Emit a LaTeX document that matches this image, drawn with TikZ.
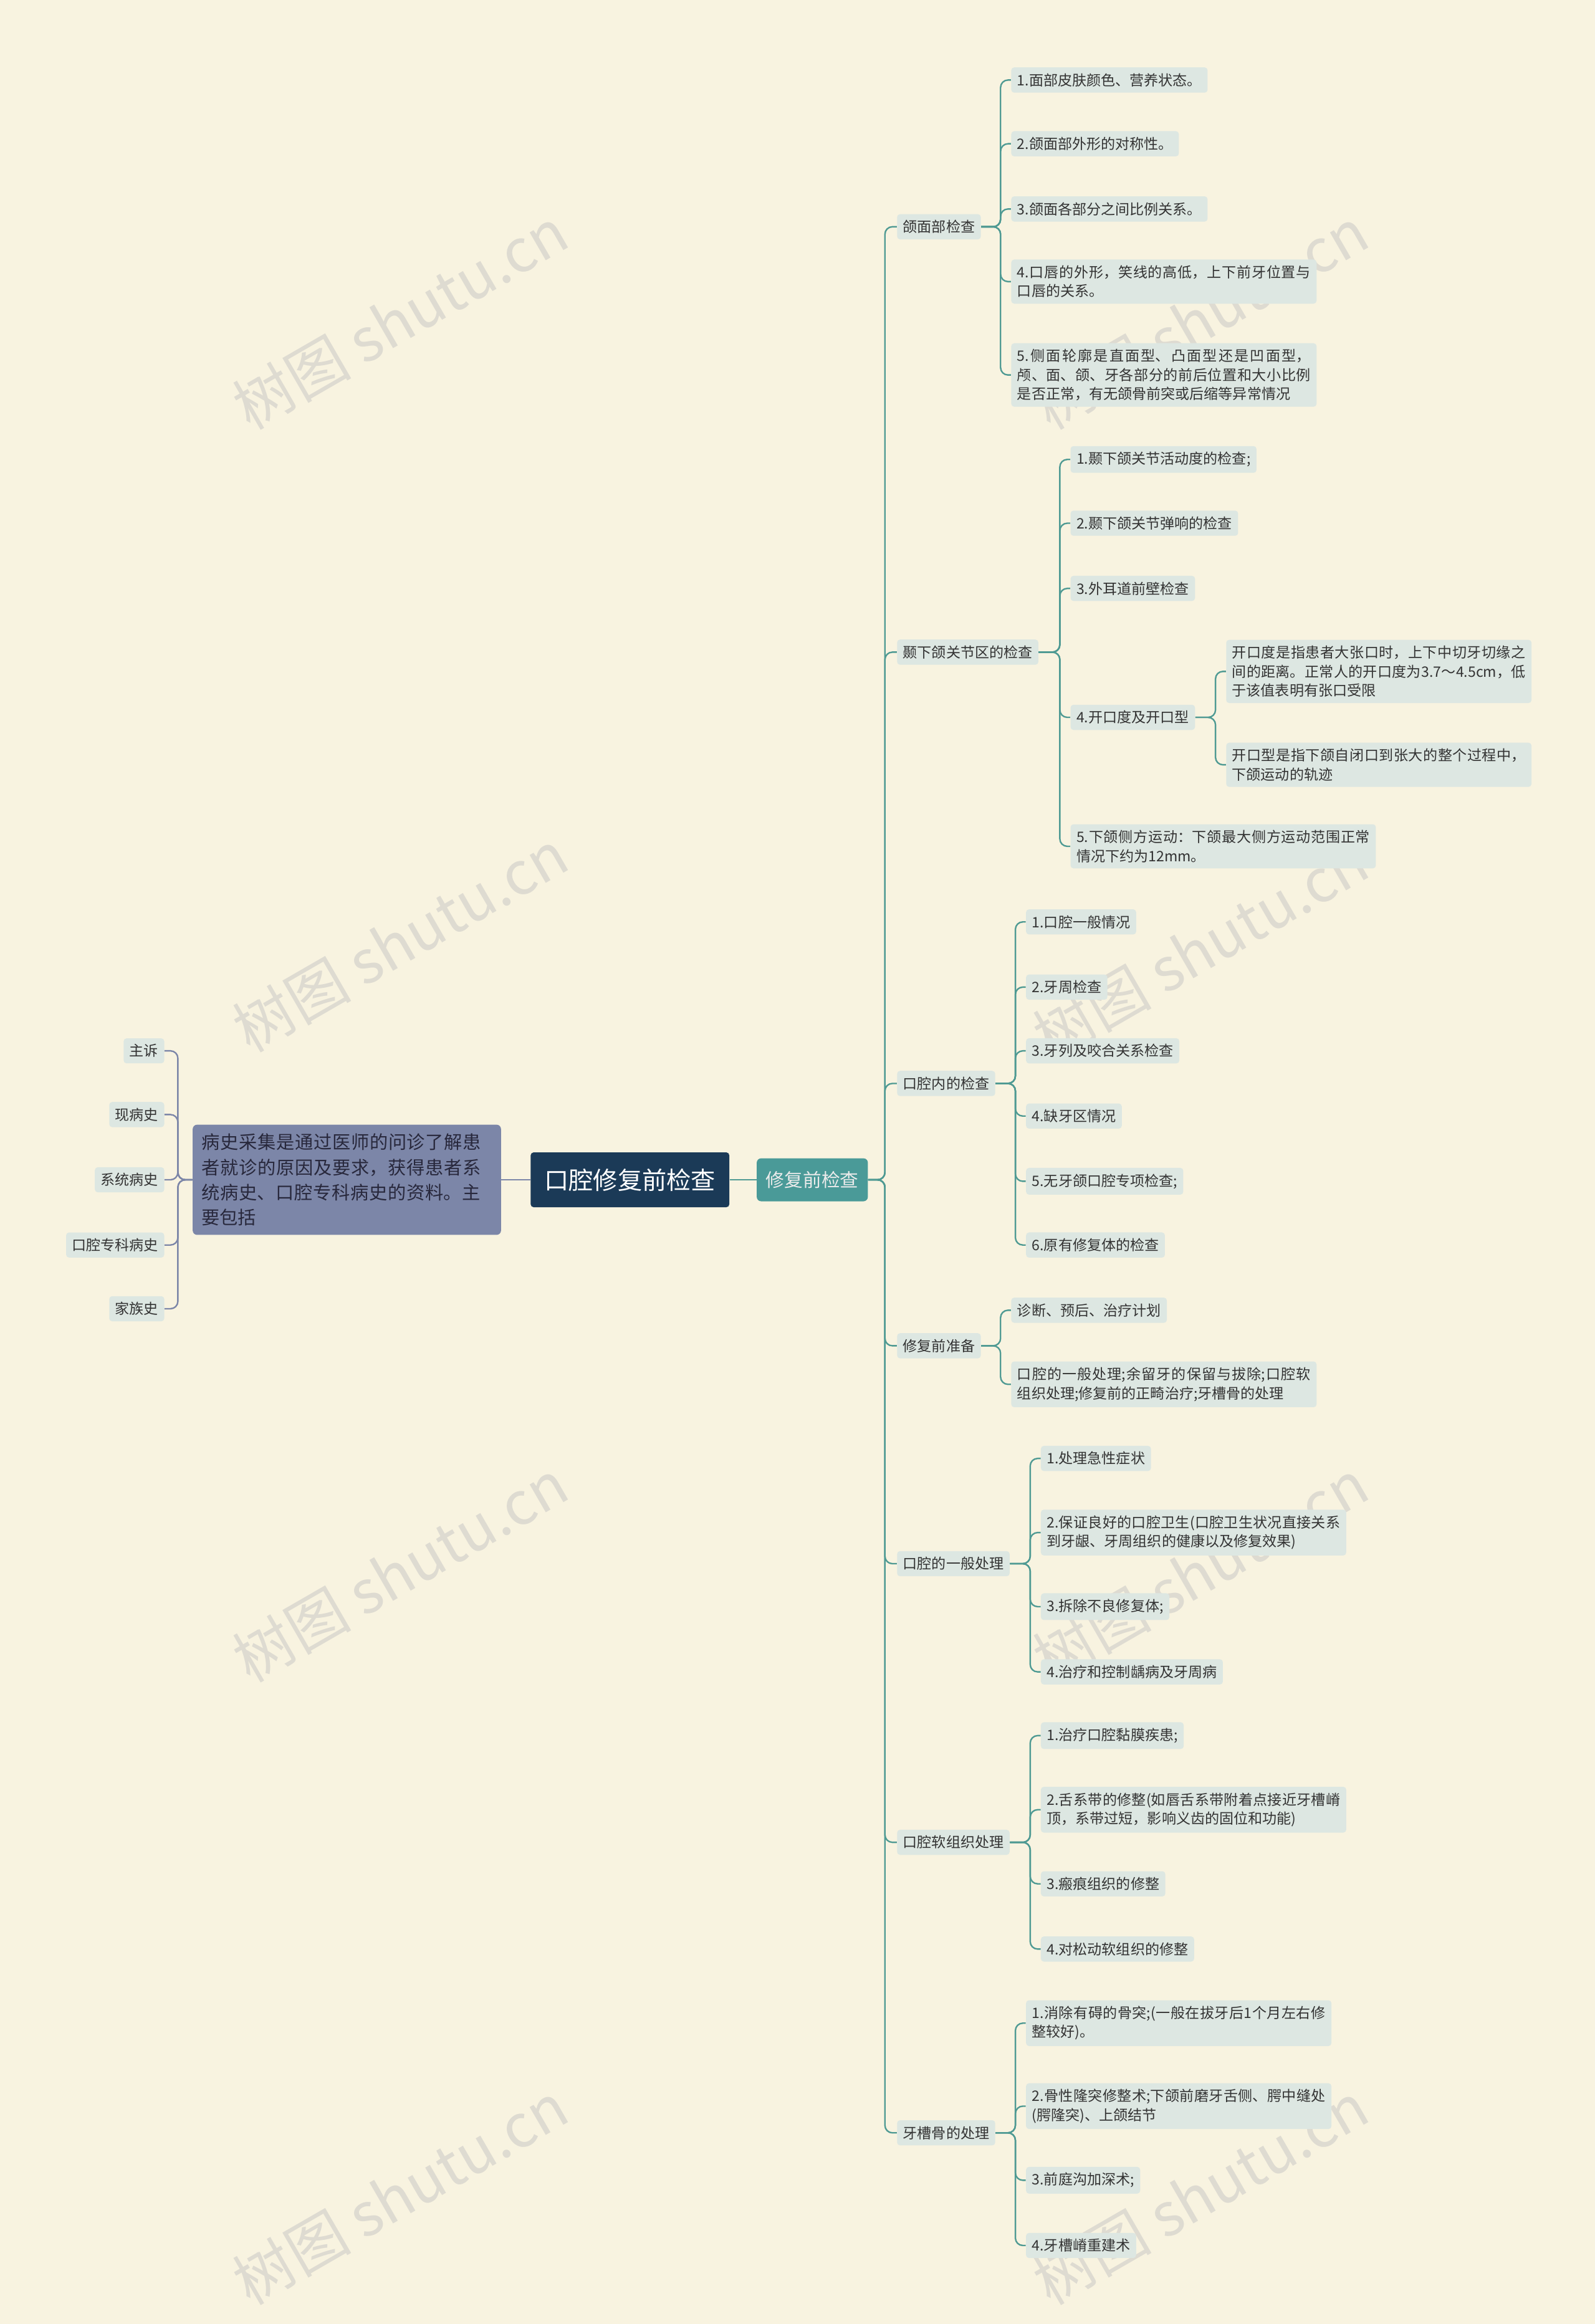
\documentclass[tikz,border=0pt]{standalone}
\usepackage{fontspec}
\setmainfont{Noto Sans CJK SC}
\XeTeXlinebreaklocale "zh"
\XeTeXlinebreakskip=0pt plus 1pt
\begin{document}
\begin{tikzpicture}[x=1pt,y=-1pt,
  leaf/.style={anchor=west,fill=leafc,rounded corners=2pt,inner sep=4pt,font=\fontsize{9.7}{12.8}\selectfont,text=black!80,align=left},
  br/.style={anchor=center,fill=leafc,rounded corners=2pt,inner sep=4pt,font=\fontsize{9.7}{12.8}\selectfont,text=black!80},
  con/.style={draw=linec,line width=1pt,rounded corners=5pt},
  lcon/.style={draw=lcol,line width=1pt,rounded corners=5pt},
  wm/.style={rotate=30,font=\fontsize{40}{42}\selectfont,text=wmc}]
\definecolor{bg}{HTML}{F8F3E0}
\definecolor{leafc}{HTML}{DDE7E2}
\definecolor{linec}{HTML}{4F9A93}
\definecolor{lcol}{HTML}{7C86A8}
\definecolor{wmc}{HTML}{DEDBD1}
\definecolor{navy}{HTML}{1B3A57}
\definecolor{teal2}{HTML}{4A9A98}
\definecolor{ltxt}{HTML}{28283C}
\fill[bg] (0,0) rectangle (1076,1568);
\useasboundingbox (0,0) rectangle (1076,1568);
\foreach \x/\y in {270/215,810/215,270/635,810/640,270/1060,810/1060,270/1480,810/1480}
  \node[wm] at (\x,\y) {树图 shutu.cn};

\node[fill=navy,text=white,rounded corners=2pt,minimum width=134,minimum height=37,font=\fontsize{16.5}{18}\selectfont] (c) at (425,796) {口腔修复前检查};
\node[fill=teal2,text=white!92!black,rounded corners=3pt,minimum width=75,minimum height=29,font=\fontsize{12.5}{14}\selectfont] (m) at (548,796) {修复前检查};
\node[fill=lcol,text=ltxt,rounded corners=3pt,text width=196,inner sep=6pt,align=left,font=\fontsize{12.3}{17}\selectfont] (L) at (234,796) {病史采集是通过医师的问诊了解患者就诊的原因及要求，获得患者系统病史、口腔专科病史的资料。主要包括};
\draw[con] (c.east) -- (m.west);
\draw[lcon] (c.west) -- (L.east);
\foreach \n/\t/\y in {l1/主诉/709,l2/现病史/752,l3/系统病史/796,l4/口腔专科病史/840,l5/家族史/883}{
  \node[br,anchor=east] (\n) at (111,\y) {\t};
  \draw[lcon] (L.west) -- (120,796) |- (\n.east);
}

\foreach \n/\t/\y in {b1/颌面部检查/153,b2/颞下颌关节区的检查/440,b3/口腔内的检查/731,b4/修复前准备/908,b5/口腔的一般处理/1055,b6/口腔软组织处理/1243,b7/牙槽骨的处理/1439}{
  \node[br,anchor=west] (\n) at (605,\y) {\t};
  \draw[con] (m.east) -- (597,796) |- (\n.west);
}

\newcommand\lf[6]{%
  \node[leaf] (#1) at (#4,#5) {#6};
  \draw[con] (#2.east) -- (#3,0 |- #2.east) |- (#1.west);}

\lf{a1}{b1}{675}{682}{54}{1.面部皮肤颜色、营养状态。}
\lf{a2}{b1}{675}{682}{97}{2.颌面部外形的对称性。}
\lf{a3}{b1}{675}{682}{141}{3.颌面各部分之间比例关系。}
\lf{a4}{b1}{675}{682}{190}{\parbox{198pt}{4.口唇的外形，笑线的高低，上下前牙位置与口唇的关系。}}
\lf{a5}{b1}{675}{682}{253}{\parbox{198pt}{5.侧面轮廓是直面型、凸面型还是凹面型，颅、面、颌、牙各部分的前后位置和大小比例是否正常，有无颌骨前突或后缩等异常情况}}

\lf{t1}{b2}{715}{722}{310}{1.颞下颌关节活动度的检查;}
\lf{t2}{b2}{715}{722}{353}{2.颞下颌关节弹响的检查}
\lf{t3}{b2}{715}{722}{397}{3.外耳道前壁检查}
\lf{t4}{b2}{715}{722}{484}{4.开口度及开口型}
\lf{t5}{b2}{715}{722}{571}{\parbox{198pt}{5.下颌侧方运动：下颌最大侧方运动范围正常情况下约为12mm。}}
\lf{s1}{t4}{820}{827}{453}{\parbox{198pt}{开口度是指患者大张口时，上下中切牙切缘之间的距离。正常人的开口度为3.7～4.5cm，低于该值表明有张口受限}}
\lf{s2}{t4}{820}{827}{516}{\parbox{198pt}{开口型是指下颌自闭口到张大的整个过程中，下颌运动的轨迹}}

\lf{k1}{b3}{685}{692}{622}{1.口腔一般情况}
\lf{k2}{b3}{685}{692}{666}{2.牙周检查}
\lf{k3}{b3}{685}{692}{709}{3.牙列及咬合关系检查}
\lf{k4}{b3}{685}{692}{753}{4.缺牙区情况}
\lf{k5}{b3}{685}{692}{797}{5.无牙颌口腔专项检查;}
\lf{k6}{b3}{685}{692}{840}{6.原有修复体的检查}

\lf{p1}{b4}{675}{682}{884}{诊断、预后、治疗计划}
\lf{p2}{b4}{675}{682}{934}{\parbox{198pt}{口腔的一般处理;余留牙的保留与拔除;口腔软组织处理;修复前的正畸治疗;牙槽骨的处理}}

\lf{g1}{b5}{695}{702}{984}{1.处理急性症状}
\lf{g2}{b5}{695}{702}{1034}{\parbox{198pt}{2.保证良好的口腔卫生(口腔卫生状况直接关系到牙龈、牙周组织的健康以及修复效果)}}
\lf{g3}{b5}{695}{702}{1084}{3.拆除不良修复体;}
\lf{g4}{b5}{695}{702}{1128}{4.治疗和控制龋病及牙周病}

\lf{r1}{b6}{695}{702}{1171}{1.治疗口腔黏膜疾患;}
\lf{r2}{b6}{695}{702}{1221}{\parbox{198pt}{2.舌系带的修整(如唇舌系带附着点接近牙槽嵴顶，系带过短，影响义齿的固位和功能)}}
\lf{r3}{b6}{695}{702}{1271}{3.瘢痕组织的修整}
\lf{r4}{b6}{695}{702}{1315}{4.对松动软组织的修整}

\lf{y1}{b7}{685}{692}{1365}{\parbox{198pt}{1.消除有碍的骨突;(一般在拔牙后1个月左右修整较好)。}}
\lf{y2}{b7}{685}{692}{1421}{\parbox{198pt}{2.骨性隆突修整术;下颌前磨牙舌侧、腭中缝处(腭隆突)、上颌结节}}
\lf{y3}{b7}{685}{692}{1471}{3.前庭沟加深术;}
\lf{y4}{b7}{685}{692}{1515}{4.牙槽嵴重建术}
\end{tikzpicture}
\end{document}
